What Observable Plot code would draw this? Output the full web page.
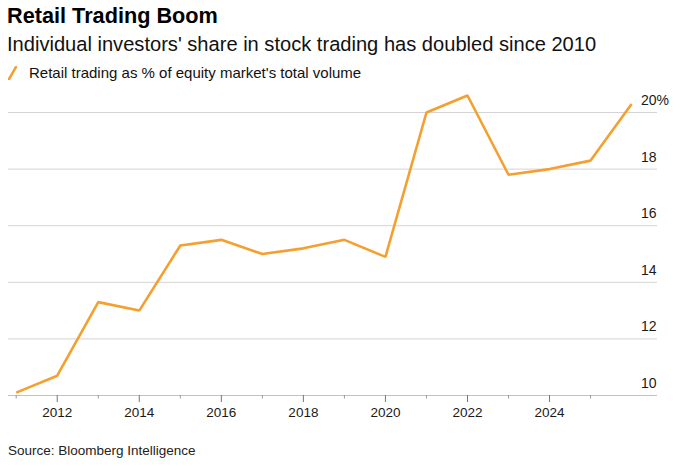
<!DOCTYPE html>
<html>
<head>
<meta charset="utf-8">
<script src="https://cdn.jsdelivr.net/npm/d3@7"></script>
<script src="https://cdn.jsdelivr.net/npm/@observablehq/plot@0.6"></script>
<style>
  html, body { margin: 0; padding: 0; background: #fff; }
  body { width: 680px; height: 466px; overflow: hidden; font-family: "Liberation Sans", Arial, Helvetica, sans-serif; color: #111; }
  #title { padding: 4px 0 0 7px; font-size: 21.7px; font-weight: bold; line-height: 24px; color: #000; }
  #subtitle { margin-top: 3px; padding-left: 7px; font-size: 20.1px; line-height: 26px; color: #111; }
  #legend { margin-top: 7px; padding-left: 8px; font-size: 15px; line-height: 18px; height: 18px; display: flex; align-items: center; color: #111; }
  #legend svg { margin-right: 12px; }
  #chart svg { display: block; }
  #source { margin-top: 10px; padding-left: 8px; font-size: 13.5px; line-height: 18px; color: #222; }
</style>
</head>
<body>
<div id="title">Retail Trading Boom</div>
<div id="subtitle">Individual investors' share in stock trading has doubled since 2010</div>
<div id="legend"><svg width="9" height="14"><line x1="1" y1="13" x2="8" y2="1" stroke="#f59f2f" stroke-width="2.5" stroke-linecap="round"/></svg>Retail trading as % of equity market's total volume</div>
<div id="chart"></div>
<div id="source">Source: Bloomberg Intelligence</div>
<script>
const years = [2011, 2012, 2013, 2014, 2015, 2016, 2017, 2018, 2019, 2020, 2021, 2022, 2023, 2024, 2025, 2026];
const retailShare = [10.1, 10.7, 13.3, 13.0, 15.3, 15.5, 15.0, 15.2, 15.5, 14.9, 20.0, 20.6, 17.8, 18.0, 18.3, 20.3];
const yTicks = [10, 12, 14, 16, 18, 20];
const xMajorTicks = [2012, 2014, 2016, 2018, 2020, 2022, 2024];
const xMinorTicks = [2011, 2013, 2015, 2017, 2019, 2021, 2023, 2025];

const data = years.map((year, i) => ({year, value: retailShare[i]}));
const orange = "#f59f2f";

const chart = Plot.plot({
  width: 680,
  height: 350,
  marginLeft: 8,
  marginRight: 23,
  marginTop: 0,
  marginBottom: 37,
  style: {fontFamily: "'Liberation Sans', Arial, sans-serif", fontSize: "13.5px", color: "#1a1a1a", background: "#fff"},
  x: {domain: [2011, 2026], range: [15.7, 631.1]},
  y: {domain: [10, 20], range: [313, 30], axis: null},
  marks: [
    Plot.gridY(yTicks, {stroke: "#d4d4d4", strokeOpacity: 1, strokeWidth: 1}),
    Plot.ruleY([10], {stroke: "#c2c2c2", strokeWidth: 1}),
    Plot.axisX({ticks: xMinorTicks, tickSize: 3.5, stroke: "#999", tickFormat: () => "", label: null}),
    Plot.axisX({ticks: xMajorTicks, tickSize: 7, tickPadding: 5, stroke: "#777", tickFormat: d => String(d), label: null, fontSize: 13.5}),
    Plot.text(yTicks, {y: d => d, text: d => String(d), frameAnchor: "right", textAnchor: "end", dx: -1, dy: -12, fontSize: 14, fill: "#1a1a1a"}),
    Plot.text([20], {y: d => d, text: () => "%", frameAnchor: "right", textAnchor: "start", dx: -1, dy: -12, fontSize: 14, fill: "#1a1a1a"}),
    Plot.line(data, {x: "year", y: "value", stroke: orange, strokeWidth: 2.6, strokeLinejoin: "miter", strokeLinecap: "butt"})
  ]
});
document.getElementById("chart").appendChild(chart);
</script>
</body>
</html>
